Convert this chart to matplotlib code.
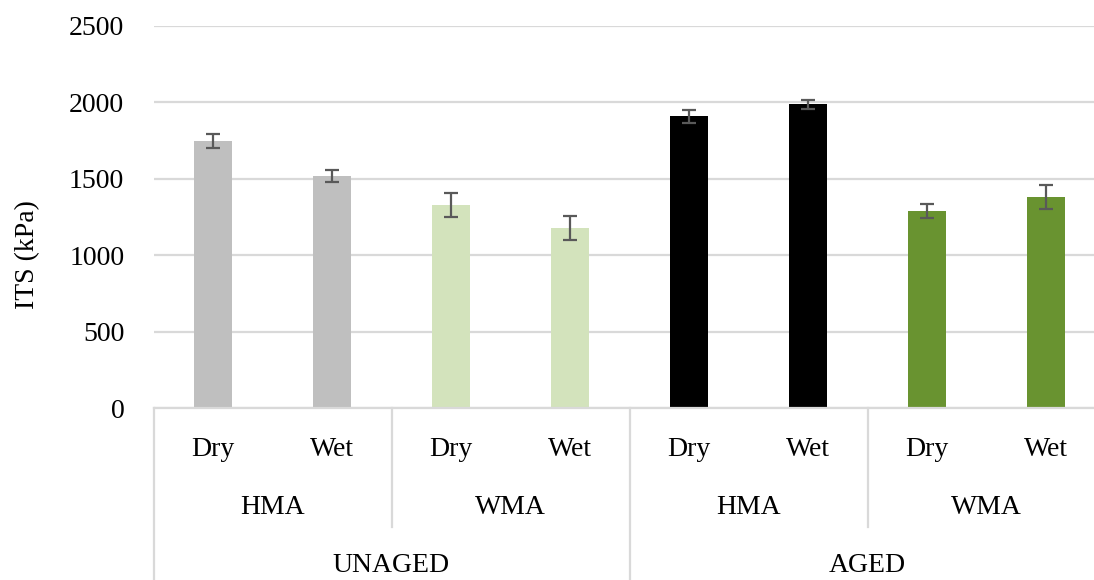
import numpy as np
import matplotlib.pyplot as plt
from matplotlib.transforms import blended_transform_factory

plt.rcParams['font.family'] = ['Liberation Serif', 'DejaVu Serif']

conditions = ['Dry', 'Wet', 'Dry', 'Wet', 'Dry', 'Wet', 'Dry', 'Wet']
mixes = ['HMA', 'WMA', 'HMA', 'WMA']
ageing = ['UNAGED', 'AGED']
its = [1745, 1518, 1328, 1178, 1910, 1987, 1290, 1380]
its_err = [45, 37, 77, 77, 42, 28, 46, 77]
colors = ['#bfbfbf', '#bfbfbf', '#d3e3bc', '#d3e3bc', '#000000', '#000000', '#699330', '#699330']

fs = 20

fig = plt.figure(figsize=(10.94, 5.80), dpi=100)
ax = fig.add_axes([153.5 / 1094, 1 - 408 / 580, 952 / 1094, 382 / 580])

x = np.arange(len(its))
ax.bar(x, its, width=0.32, color=colors, zorder=2)
ax.errorbar(x, its, yerr=its_err, fmt='none', ecolor='#595959', elinewidth=1.6,
            capsize=5, capthick=1.6, zorder=3)

ax.set_xlim(-0.5, 7.5)
ax.set_ylim(0, 2500)
ax.set_yticks(range(0, 2501, 500))
ax.yaxis.grid(True, color='#d9d9d9', linewidth=1.6, zorder=0)
ax.set_axisbelow(True)
for s in ['top', 'right', 'left']:
    ax.spines[s].set_visible(False)
ax.spines['bottom'].set_color('#d9d9d9')
ax.spines['bottom'].set_linewidth(1.6)
ax.tick_params(axis='y', length=0, pad=21, labelsize=fs)
ax.set_xticks([])

# multi-level category axis
tr = blended_transform_factory(ax.transData, fig.transFigure)
y_axis = 1 - 408 / 580
for i, c in enumerate(conditions):
    ax.text(i, 1 - 449 / 580, c, transform=tr, ha='center', va='center', fontsize=fs)
for j, m in enumerate(mixes):
    ax.text(2 * j + 0.5, 1 - 507 / 580, m, transform=tr, ha='center', va='center', fontsize=fs)
for k, a in enumerate(ageing):
    ax.text(4 * k + 1.5, 1 - 565 / 580, a, transform=tr, ha='center', va='center', fontsize=fs)

for xs in [-0.5, 3.5]:
    ax.plot([xs, xs], [y_axis, 0], transform=tr, color='#d9d9d9', lw=1.6, clip_on=False)
for xs in [1.5, 5.5]:
    ax.plot([xs, xs], [y_axis, 1 - 527 / 580], transform=tr, color='#d9d9d9', lw=1.6, clip_on=False)

fig.text(28 / 1094, 1 - 255 / 580, 'ITS (kPa)', rotation=90, ha='center', va='center', fontsize=fs)

fig.savefig('out.png', dpi=100)
